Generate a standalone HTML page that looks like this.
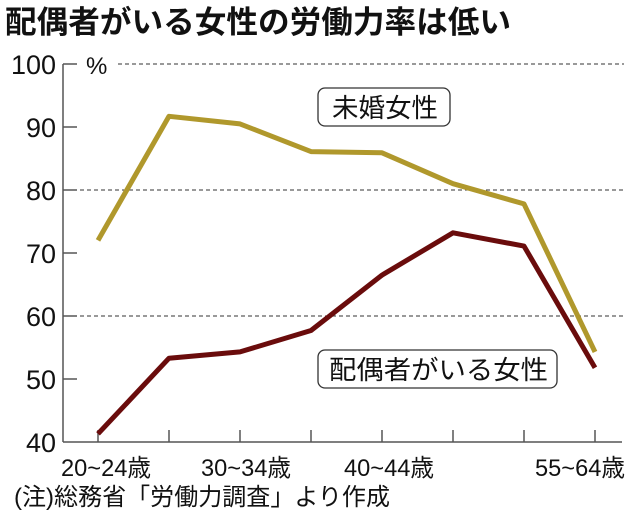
<!DOCTYPE html>
<html><head><meta charset="utf-8"><style>
body{margin:0;background:#fff;width:630px;height:516px;overflow:hidden}
svg text{font-family:"Liberation Sans","Noto Sans CJK JP",sans-serif;fill:#111}
</style></head><body>
<svg width="630" height="516" xmlns="http://www.w3.org/2000/svg">
<text x="5" y="33" font-size="31" font-weight="bold" textLength="506" lengthAdjust="spacingAndGlyphs">配偶者がいる女性の労働力率は低い</text>
<g stroke="#333" stroke-width="1" stroke-dasharray="4,3">
<line x1="118" y1="64" x2="624" y2="64"/>
<line x1="80" y1="190" x2="624" y2="190"/>
<line x1="80" y1="316" x2="624" y2="316"/>
</g>
<g stroke="#555" stroke-width="1.5" fill="none">
<line x1="63" y1="64" x2="63" y2="442"/>
<line x1="63" y1="442" x2="622" y2="442"/>
<line x1="63" y1="64" x2="77" y2="64"/>
<line x1="63" y1="127" x2="77" y2="127"/>
<line x1="63" y1="190" x2="77" y2="190"/>
<line x1="63" y1="253" x2="77" y2="253"/>
<line x1="63" y1="316" x2="77" y2="316"/>
<line x1="63" y1="379" x2="77" y2="379"/>
<line x1="98" y1="430" x2="98" y2="442"/><line x1="169" y1="430" x2="169" y2="442"/>
<line x1="240" y1="430" x2="240" y2="442"/><line x1="311" y1="430" x2="311" y2="442"/>
<line x1="382" y1="430" x2="382" y2="442"/><line x1="453" y1="430" x2="453" y2="442"/>
<line x1="524" y1="430" x2="524" y2="442"/><line x1="595" y1="430" x2="595" y2="442"/>
</g>
<g font-size="27" text-anchor="end">
<text x="56" y="74">100</text><text x="56" y="137">90</text><text x="56" y="200">80</text>
<text x="56" y="263">70</text><text x="56" y="326">60</text><text x="56" y="389">50</text><text x="56" y="452">40</text>
</g>
<text x="86" y="74" font-size="24">%</text>
<g font-size="24">
<text x="61" y="476" textLength="90" lengthAdjust="spacingAndGlyphs">20~24歳</text>
<text x="201" y="476" textLength="90" lengthAdjust="spacingAndGlyphs">30~34歳</text>
<text x="344" y="476" textLength="90" lengthAdjust="spacingAndGlyphs">40~44歳</text>
<text x="535" y="476" textLength="90" lengthAdjust="spacingAndGlyphs">55~64歳</text>
</g>
<text x="14" y="505" font-size="24" textLength="376" lengthAdjust="spacingAndGlyphs">(注)総務省「労働力調査」より作成</text>
<polyline fill="none" stroke="#b0982c" stroke-width="5" stroke-linejoin="round" points="98,240.4 169,116.3 240,123.9 311,151.6 382,152.8 453,183.7 524,203.9 595,351.9"/>
<polyline fill="none" stroke="#6a0c0c" stroke-width="5" stroke-linejoin="round" points="98,433.8 169,358.2 240,351.9 311,330.5 382,275.1 453,232.8 524,246.1 595,367.7"/>
<rect x="318" y="88" width="132" height="38" rx="7" fill="#fff" stroke="#333" stroke-width="1.3"/>
<text x="332" y="117" font-size="26" textLength="106" lengthAdjust="spacingAndGlyphs">未婚女性</text>
<rect x="318" y="350" width="239" height="38" rx="7" fill="#fff" stroke="#333" stroke-width="1.3"/>
<text x="329" y="379" font-size="26" textLength="219" lengthAdjust="spacingAndGlyphs">配偶者がいる女性</text>
</svg>
</body></html>
